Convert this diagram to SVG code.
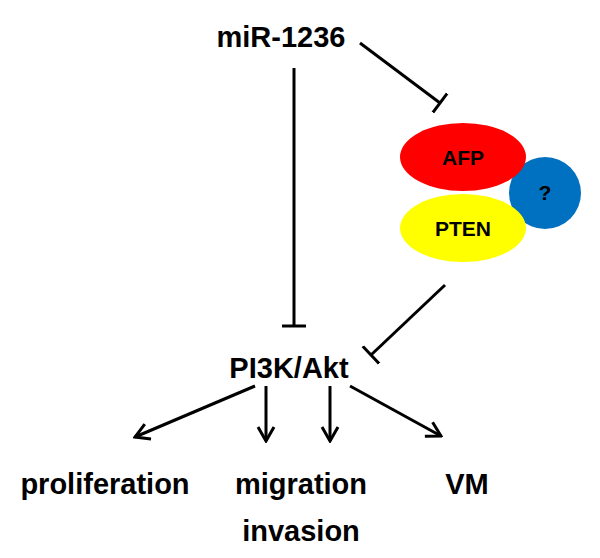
<svg xmlns="http://www.w3.org/2000/svg" width="600" height="558" viewBox="0 0 600 558">
<style>
text{font-family:"Liberation Sans",Arial,sans-serif;font-weight:bold;fill:#000;text-anchor:middle}
.big{font-size:29px}
.lbl{font-size:21px}
.ln{stroke:#000;stroke-width:3;fill:none}
</style>
<defs>
<marker id="arr" viewBox="0 0 20 20" refX="18" refY="10" markerWidth="20" markerHeight="20" markerUnits="userSpaceOnUse" orient="auto">
<path d="M4,2 L18,10 L4,18" fill="none" stroke="#000" stroke-width="3"/>
</marker>
<marker id="tee" viewBox="0 0 10 24" refX="5" refY="12" markerWidth="10" markerHeight="24" markerUnits="userSpaceOnUse" orient="auto">
<path d="M5,0 L5,24" stroke="#000" stroke-width="3"/>
</marker>
</defs>
<g id="connectors">
<path class="ln" d="M294,68 L294,326" marker-end="url(#tee)"/>
<path class="ln" d="M360,43 L440,103" marker-end="url(#tee)"/>
<path class="ln" d="M445,285 L371,355" marker-end="url(#tee)"/>
<path class="ln" d="M255,386 L135,437" marker-end="url(#arr)"/>
<path class="ln" d="M266,386 L266,441" marker-end="url(#arr)"/>
<path class="ln" d="M330,386 L330,441" marker-end="url(#arr)"/>
<path class="ln" d="M350,386 L441,436" marker-end="url(#arr)"/>
</g>
<g id="mir"><text class="big" x="281" y="47">miR-1236</text></g>
<g id="q"><circle cx="545" cy="193" r="36" fill="#0070c0"/><text class="lbl" x="545" y="200">?</text></g>
<g id="afp"><ellipse cx="463" cy="157" rx="63" ry="34" fill="#ff0000"/><text class="lbl" x="463" y="165">AFP</text></g>
<g id="pten"><ellipse cx="463" cy="228" rx="63" ry="34" fill="#ffff00"/><text class="lbl" x="463" y="236">PTEN</text></g>
<g id="pi3k"><text class="big" x="289" y="378">PI3K/Akt</text></g>
<g id="prolif"><text class="big" x="105" y="494">proliferation</text></g>
<g id="mig"><text class="big" x="301" y="494">migration</text><text class="big" x="301" y="541">invasion</text></g>
<g id="vm"><text class="big" x="467" y="494">VM</text></g>
</svg>
